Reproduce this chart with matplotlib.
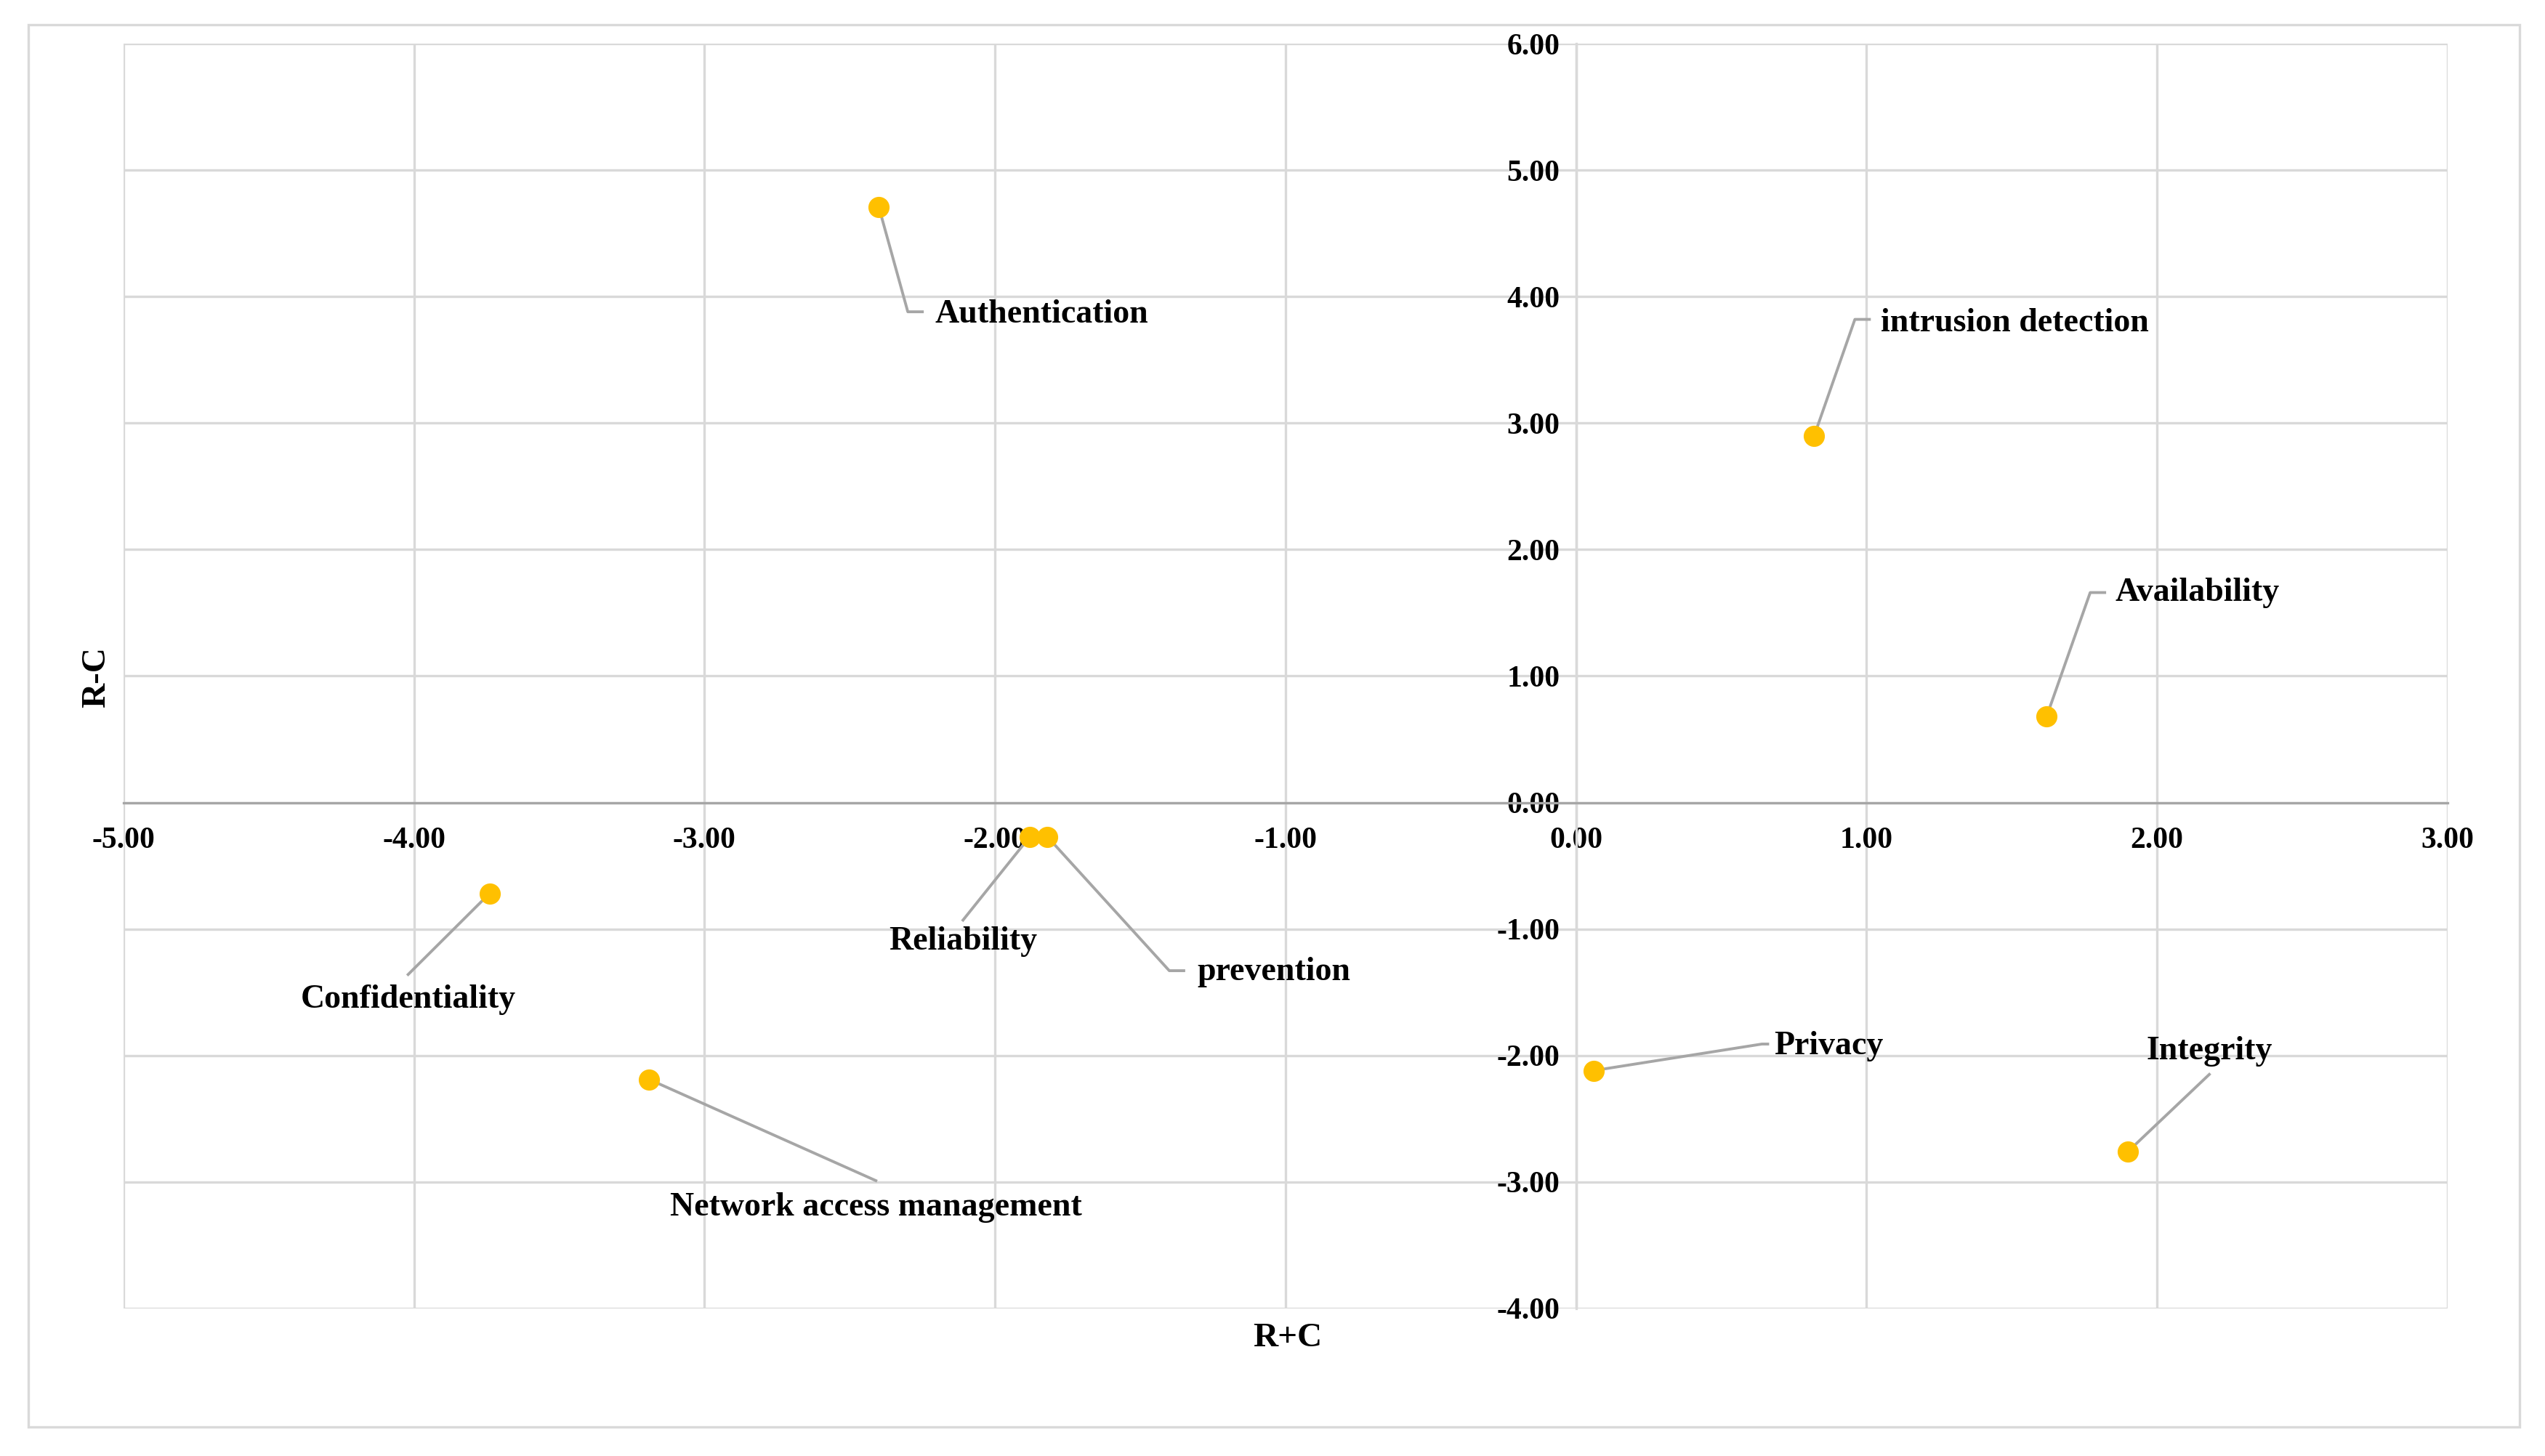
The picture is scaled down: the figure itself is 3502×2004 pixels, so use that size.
import matplotlib.pyplot as plt
from matplotlib.patches import Rectangle

plt.rcParams['font.family'] = ['Liberation Serif', 'DejaVu Serif']

names = ["Authentication", "intrusion detection", "Availability", "Reliability",
         "prevention", "Confidentiality", "Network access management", "Privacy", "Integrity"]
rc_plus = [-2.40, 0.82, 1.62, -1.88, -1.82, -3.74, -3.19, 0.06, 1.90]
rc_minus = [4.71, 2.90, 0.68, -0.27, -0.27, -0.72, -2.19, -2.12, -2.76]

# label text centre and leader-line path (data units)
label_xy = [(-1.84, 3.86), (1.51, 3.79), (2.14, 1.66), (-2.11, -1.10), (-1.04, -1.34),
            (-4.02, -1.56), (-2.41, -3.20), (0.87, -1.93), (2.18, -1.97)]
leader = [
    [(-2.30, 3.88), (-2.25, 3.88)],
    [(0.96, 3.82), (1.01, 3.82)],
    [(1.77, 1.66), (1.82, 1.66)],
    [(-2.11, -0.93)],
    [(-1.40, -1.33), (-1.35, -1.33)],
    [(-4.02, -1.36)],
    [(-2.41, -2.99)],
    [(0.64, -1.91), (0.66, -1.91)],
    [(2.18, -2.15)],
]

fig = plt.figure(figsize=(17.51, 10.02), dpi=200)
ax = fig.add_axes([0.0485, 0.1014, 0.9132, 0.8686])
fig.patches.append(Rectangle((0.011, 0.02), 0.979, 0.963, transform=fig.transFigure,
                             fill=False, edgecolor='#d9d9d9', linewidth=1.2))

ax.set_xlim(-5, 3)
ax.set_ylim(-4, 6)
ax.set_xticks(range(-5, 4))
ax.set_yticks(range(-4, 7))
ax.set_xticklabels([f"{v:.2f}" for v in range(-5, 4)])
ax.set_yticklabels([f"{v:.2f}" for v in range(-4, 7)])
ax.grid(True, color='#d9d9d9', linewidth=1.2)
ax.set_axisbelow(True)
for s in ['top', 'right']:
    ax.spines[s].set_visible(False)
ax.spines['left'].set_position('zero')
ax.spines['bottom'].set_position('zero')
ax.spines['left'].set_color('#d9d9d9')
ax.spines['bottom'].set_color('#a6a6a6')
ax.spines['left'].set_linewidth(1.2)
ax.spines['bottom'].set_linewidth(1.2)
ax.tick_params(axis='x', length=0, labelsize=15, pad=12)
ax.tick_params(axis='y', length=0, labelsize=15, pad=8)
for t in ax.get_xticklabels() + ax.get_yticklabels():
    t.set_fontweight('bold')

for x, y, path in zip(rc_plus, rc_minus, leader):
    xs = [x] + [p[0] for p in path]
    ys = [y] + [p[1] for p in path]
    ax.plot(xs, ys, color='#a6a6a6', linewidth=1.4, zorder=2)

ax.scatter(rc_plus, rc_minus, s=90, color='#ffc000', edgecolor='#ffc000', zorder=3)

for name, (lx, ly) in zip(names, label_xy):
    ax.text(lx, ly, name, ha='center', va='center', fontsize=16.5, fontweight='bold')

fig.text(0.506, 0.081, "R+C", ha='center', va='center', fontsize=17, fontweight='bold')
fig.text(0.038, 0.535, "R-C", ha='center', va='center', fontsize=17, fontweight='bold', rotation=90)

fig.savefig("out.png", dpi=200)
